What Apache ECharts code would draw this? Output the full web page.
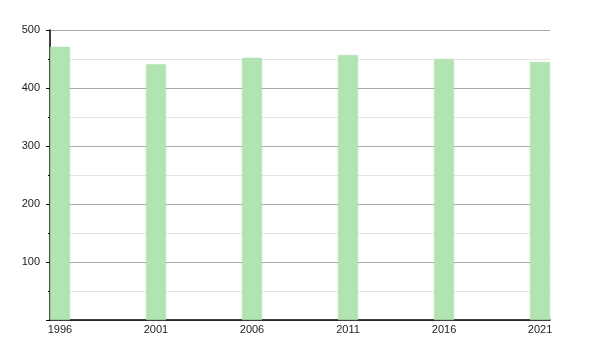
<!DOCTYPE html>
<html>
<head>
<meta charset="utf-8">
<script src="https://cdn.jsdelivr.net/npm/echarts@6/dist/echarts.min.js"></script>
<style>html,body{margin:0;padding:0;background:#fff;}#c{width:600px;height:350px;}</style>
</head>
<body>
<div id="c"></div>
<script>
var years = [1996, 2001, 2006, 2011, 2016, 2021];
var values = [471, 441, 452, 457, 450, 445];
var yTicks = [100, 200, 300, 400, 500];

var chart = echarts.init(document.getElementById('c'));
chart.setOption({
  animation: false,
  grid: { left: 50, right: 50, top: 30, bottom: 30 },
  xAxis: {
    type: 'value',
    min: 1995.48,
    max: 2021.52,
    axisLine: { show: true, lineStyle: { color: '#000', width: 1.5 } },
    axisTick: { show: false },
    splitLine: { show: false },
    axisLabel: {
      customValues: years,
      formatter: function (v) { return String(Math.round(v)); },
      color: '#222',
      fontFamily: 'Liberation Sans, Arial, sans-serif',
      fontSize: 11,
      margin: 4
    }
  },
  yAxis: {
    type: 'value',
    min: 0,
    max: 500,
    interval: 100,
    axisLine: { show: true, lineStyle: { color: '#000', width: 1.5 } },
    axisTick: { show: true, length: 4, lineStyle: { color: '#000' } },
    minorTick: { show: true, splitNumber: 2, length: 2, lineStyle: { color: '#000' } },
    splitLine: { show: true, lineStyle: { color: '#aaaaaa', width: 1 } },
    minorSplitLine: { show: true, lineStyle: { color: '#e4e4e4', width: 1 } },
    axisLabel: {
      formatter: function (v) { return yTicks.indexOf(v) >= 0 ? String(v) : ''; },
      color: '#222',
      fontFamily: 'Liberation Sans, Arial, sans-serif',
      fontSize: 11,
      margin: 10
    }
  },
  series: [{
    type: 'bar',
    data: years.map(function (y, i) { return [y, values[i]]; }),
    barWidth: 20,
    itemStyle: { color: '#b2e4b2', borderColor: '#a8dea8', borderWidth: 0.5 }
  }]
});
</script>
</body>
</html>
